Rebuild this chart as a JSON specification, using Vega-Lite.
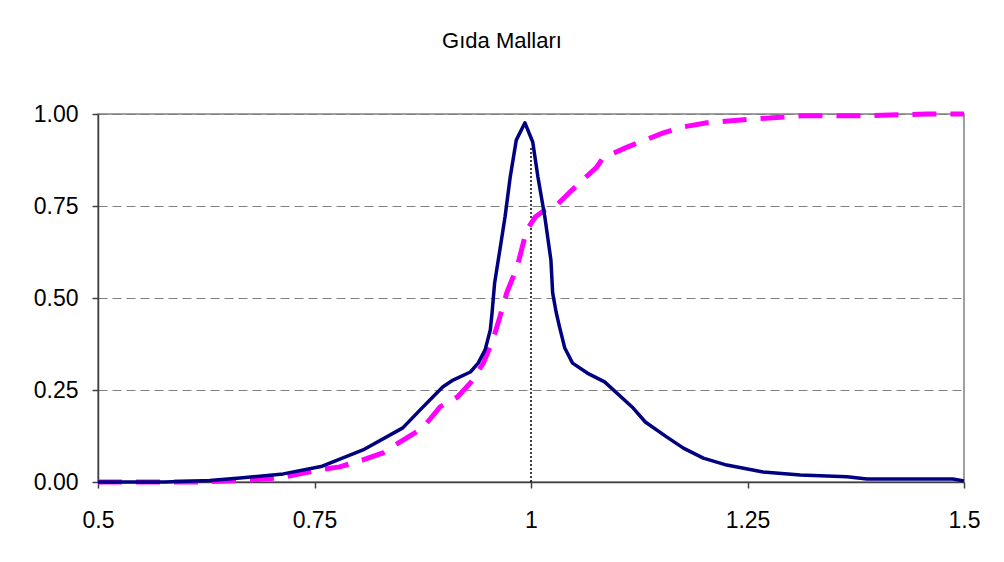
{
  "$schema": "https://vega.github.io/schema/vega-lite/v6.json",
  "width": 866,
  "height": 368,
  "autosize": {"type": "none"},
  "padding": {"left": 98, "top": 114, "right": 40, "bottom": 80},
  "background": "white",
  "config": {
    "view": {"stroke": "#808080", "strokeWidth": 1.5},
    "font": "Liberation Sans"
  },
  "title": {
    "text": "Gıda Malları",
    "font": "Liberation Sans",
    "fontSize": 22,
    "fontWeight": "normal",
    "color": "black",
    "anchor": "middle",
    "dx": -29,
    "offset": 50
  },
  "datasets": {
    "density": [
      {"x": 0.5, "y": 0},
      {"x": 0.577, "y": 0},
      {"x": 0.629, "y": 0.004},
      {"x": 0.664, "y": 0.011},
      {"x": 0.714, "y": 0.022},
      {"x": 0.759, "y": 0.043},
      {"x": 0.806, "y": 0.087},
      {"x": 0.852, "y": 0.147},
      {"x": 0.872, "y": 0.196},
      {"x": 0.898, "y": 0.258},
      {"x": 0.91, "y": 0.277},
      {"x": 0.93, "y": 0.299},
      {"x": 0.939, "y": 0.323},
      {"x": 0.947, "y": 0.359},
      {"x": 0.953, "y": 0.413},
      {"x": 0.955, "y": 0.459},
      {"x": 0.958, "y": 0.541},
      {"x": 0.964, "y": 0.63},
      {"x": 0.97, "y": 0.72},
      {"x": 0.976, "y": 0.829},
      {"x": 0.983, "y": 0.929},
      {"x": 0.993, "y": 0.976},
      {"x": 1.002, "y": 0.924},
      {"x": 1.008, "y": 0.829},
      {"x": 1.016, "y": 0.72},
      {"x": 1.023, "y": 0.603},
      {"x": 1.025, "y": 0.514},
      {"x": 1.029, "y": 0.462},
      {"x": 1.033, "y": 0.421},
      {"x": 1.039, "y": 0.364},
      {"x": 1.048, "y": 0.323},
      {"x": 1.065, "y": 0.296},
      {"x": 1.085, "y": 0.272},
      {"x": 1.118, "y": 0.201},
      {"x": 1.132, "y": 0.163},
      {"x": 1.157, "y": 0.122},
      {"x": 1.176, "y": 0.092},
      {"x": 1.199, "y": 0.065},
      {"x": 1.226, "y": 0.046},
      {"x": 1.268, "y": 0.027},
      {"x": 1.311, "y": 0.019},
      {"x": 1.365, "y": 0.014},
      {"x": 1.388, "y": 0.008},
      {"x": 1.464, "y": 0.008},
      {"x": 1.487, "y": 0.008},
      {"x": 1.5, "y": 0.003}
    ],
    "cdf": [
      {"x": 0.5, "y": 0},
      {"x": 0.618, "y": 0},
      {"x": 0.664, "y": 0.004},
      {"x": 0.71, "y": 0.011},
      {"x": 0.756, "y": 0.033},
      {"x": 0.779, "y": 0.041},
      {"x": 0.806, "y": 0.06},
      {"x": 0.829, "y": 0.079},
      {"x": 0.849, "y": 0.109},
      {"x": 0.875, "y": 0.147},
      {"x": 0.895, "y": 0.204},
      {"x": 0.915, "y": 0.231},
      {"x": 0.93, "y": 0.269},
      {"x": 0.945, "y": 0.323},
      {"x": 0.956, "y": 0.386},
      {"x": 0.964, "y": 0.448},
      {"x": 0.972, "y": 0.514},
      {"x": 0.984, "y": 0.584},
      {"x": 0.995, "y": 0.685},
      {"x": 1.005, "y": 0.72},
      {"x": 1.016, "y": 0.739},
      {"x": 1.03, "y": 0.753},
      {"x": 1.045, "y": 0.788},
      {"x": 1.06, "y": 0.821},
      {"x": 1.076, "y": 0.856},
      {"x": 1.083, "y": 0.88},
      {"x": 1.109, "y": 0.908},
      {"x": 1.126, "y": 0.924},
      {"x": 1.152, "y": 0.948},
      {"x": 1.176, "y": 0.965},
      {"x": 1.203, "y": 0.976},
      {"x": 1.253, "y": 0.986},
      {"x": 1.314, "y": 0.995},
      {"x": 1.38, "y": 0.995},
      {"x": 1.457, "y": 1.0},
      {"x": 1.5, "y": 1.0}
    ],
    "marker": [
      {"x": 1, "y": 0, "y2": 0.91}
    ]
  },
  "encoding": {
    "x": {
      "field": "x",
      "type": "quantitative",
      "scale": {"domain": [0.5, 1.5], "nice": false, "zero": false},
      "axis": {
        "title": null,
        "values": [0.5, 0.75, 1, 1.25, 1.5],
        "labelExpr": "'' + datum.value",
        "grid": false,
        "domainColor": "#404040",
        "domainWidth": 1.5,
        "tickColor": "#404040",
        "tickWidth": 1.5,
        "tickSize": 6,
        "labelFont": "Liberation Sans",
        "labelFontSize": 23,
        "labelColor": "black",
        "labelPadding": 21,
        "labelFlush": false
      }
    },
    "y": {
      "field": "y",
      "type": "quantitative",
      "scale": {"domain": [0, 1], "nice": false},
      "axis": {
        "title": null,
        "values": [0, 0.25, 0.5, 0.75, 1],
        "format": ".2f",
        "grid": true,
        "gridColor": "#808080",
        "gridDash": [9, 5],
        "gridWidth": 1.2,
        "domainColor": "#404040",
        "domainWidth": 1.5,
        "tickColor": "#404040",
        "tickWidth": 1.5,
        "tickSize": 6,
        "labelFont": "Liberation Sans",
        "labelFontSize": 23,
        "labelColor": "black",
        "labelPadding": 14,
        "labelFlush": false
      }
    }
  },
  "layer": [
    {
      "data": {"name": "marker"},
      "mark": {"type": "rule", "color": "black", "strokeWidth": 1.5, "strokeDash": [2, 2]},
      "encoding": {
        "y2": {"field": "y2"}
      }
    },
    {
      "data": {"name": "cdf"},
      "mark": {"type": "line", "color": "#FF00FF", "strokeWidth": 5, "strokeDash": [24, 14]}
    },
    {
      "data": {"name": "density"},
      "mark": {"type": "line", "color": "#000080", "strokeWidth": 3.5, "strokeJoin": "round"}
    }
  ]
}
